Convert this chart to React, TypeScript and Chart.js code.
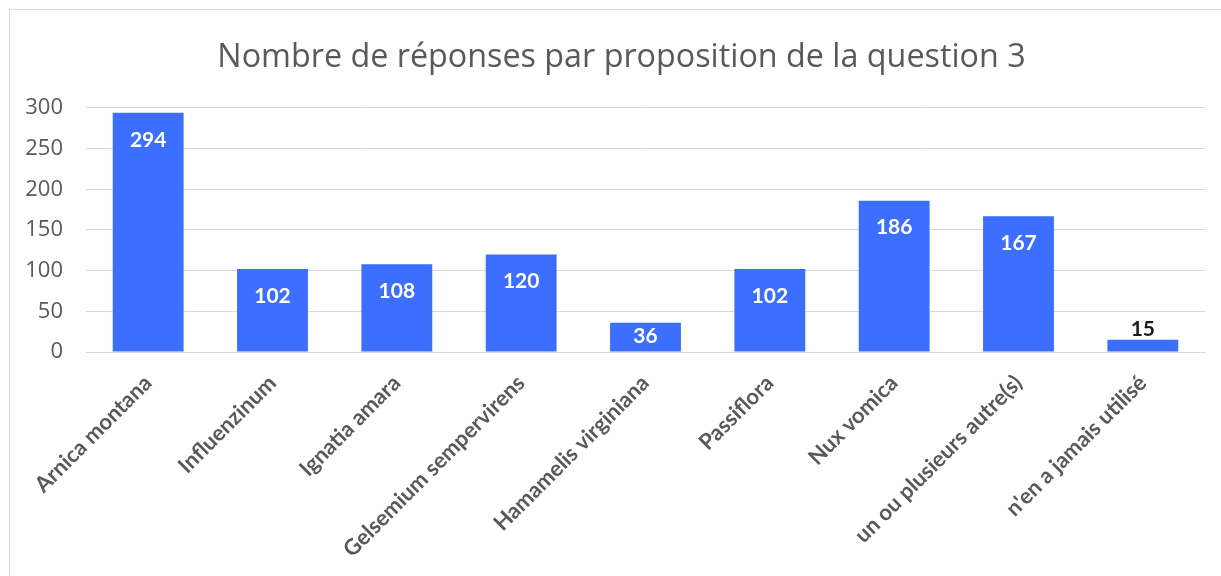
import React, { useEffect, useRef } from "react";
import { Chart, registerables } from "chart.js";

Chart.register(...registerables);

const TITLE = "Nombre de réponses par proposition de la question 3";
const categories = [
  "Arnica montana",
  "Influenzinum",
  "Ignatia amara",
  "Gelsemium sempervirens",
  "Hamamelis virginiana",
  "Passiflora",
  "Nux vomica",
  "un ou plusieurs autre(s)",
  "n'en a jamais utilisé",
];
const values = [294, 102, 108, 120, 36, 102, 186, 167, 15];
const yTicks = [0, 50, 100, 150, 200, 250, 300];

const BAR_COLOR = "#3C6EFF";
const TEXT_GRAY = "#595959";
const GRID = "#d9d9d9";

const valueLabels = {
  id: "valueLabels",
  afterDatasetsDraw(chart: any) {
    const ctx = chart.ctx;
    const meta = chart.getDatasetMeta(0);
    ctx.save();
    ctx.font = "bold 21px Lato, 'Open Sans', sans-serif";
    ctx.textAlign = "center";
    ctx.textBaseline = "middle";
    meta.data.forEach((bar: any, i: number) => {
      const v = values[i];
      const h = bar.base - bar.y;
      if (h > 22) {
        ctx.fillStyle = "#ffffff";
        const y = Math.min(bar.y + 27, (bar.y + bar.base) / 2 - 1);
        ctx.fillText(String(v), bar.x, y);
      } else {
        ctx.fillStyle = "#1a1a1a";
        ctx.fillText(String(v), bar.x, bar.y - 11);
      }
    });
    ctx.restore();
  },
};

// center the title over the frame (the frame starts at x≈9 and extends past the right edge)
const titleShift = {
  id: "titleShift",
  afterLayout(chart: any) {
    const t = chart.titleBlock;
    if (t) {
      t.left = 38;
    }
  },
};

export default function App() {
  const ref = useRef<HTMLCanvasElement | null>(null);
  useEffect(() => {
    if (!ref.current) return;
    const chart = new Chart(ref.current, {
      type: "bar",
      data: {
        labels: categories,
        datasets: [
          {
            data: values,
            backgroundColor: BAR_COLOR,
            borderWidth: 0,
            barPercentage: 0.57,
            categoryPercentage: 1,
          },
        ],
      },
      options: {
        animation: false,
        responsive: false,
        maintainAspectRatio: false,
        layout: { padding: { left: 0, right: 16, top: 10, bottom: 0 } },
        plugins: {
          legend: { display: false },
          tooltip: { enabled: false },
          title: {
            display: true,
            text: TITLE,
            color: TEXT_GRAY,
            font: { family: "'Open Sans', Lato, sans-serif", size: 32.3, weight: "normal" as any, lineHeight: 1.2 },
            padding: { top: 28, bottom: 31.2 },
          },
        },
        scales: {
          x: {
            grid: { display: false, drawTicks: false },
            border: { display: true, color: GRID, width: 1 },
            ticks: {
              color: TEXT_GRAY,
              font: { family: "Lato, 'Open Sans', sans-serif", size: 22, weight: "bold" as any },
              minRotation: 45,
              maxRotation: 45,
              padding: 18,
              autoSkip: false,
            },
            afterFit(scale: any) {
              scale.height = 224;
            },
          },
          y: {
            min: 0,
            max: 300,
            afterBuildTicks(scale: any) {
              scale.ticks = yTicks.map((v) => ({ value: v }));
            },
            grid: { color: GRID, lineWidth: 1, drawTicks: false },
            border: { display: false },
            ticks: {
              color: TEXT_GRAY,
              font: { family: "'Open Sans', Lato, sans-serif", size: 22 },
              padding: 23,
            },
            afterFit(scale: any) {
              scale.width = 86;
            },
          },
        },
      },
      plugins: [valueLabels, titleShift],
    });
    return () => chart.destroy();
  }, []);

  return (
    <div style={{ position: "absolute", left: 0, top: 0, width: 1221, height: 576, background: "#fff", overflow: "hidden" }}>
      <div
        style={{
          position: "absolute",
          left: 9,
          top: 9,
          width: 1230,
          height: 600,
          borderLeft: "1px solid #d9d9d9",
          borderTop: "1px solid #d9d9d9",
        }}
      />
      <canvas ref={ref} width={1221} height={576} style={{ position: "absolute", left: 0, top: 0 }} />
    </div>
  );
}
